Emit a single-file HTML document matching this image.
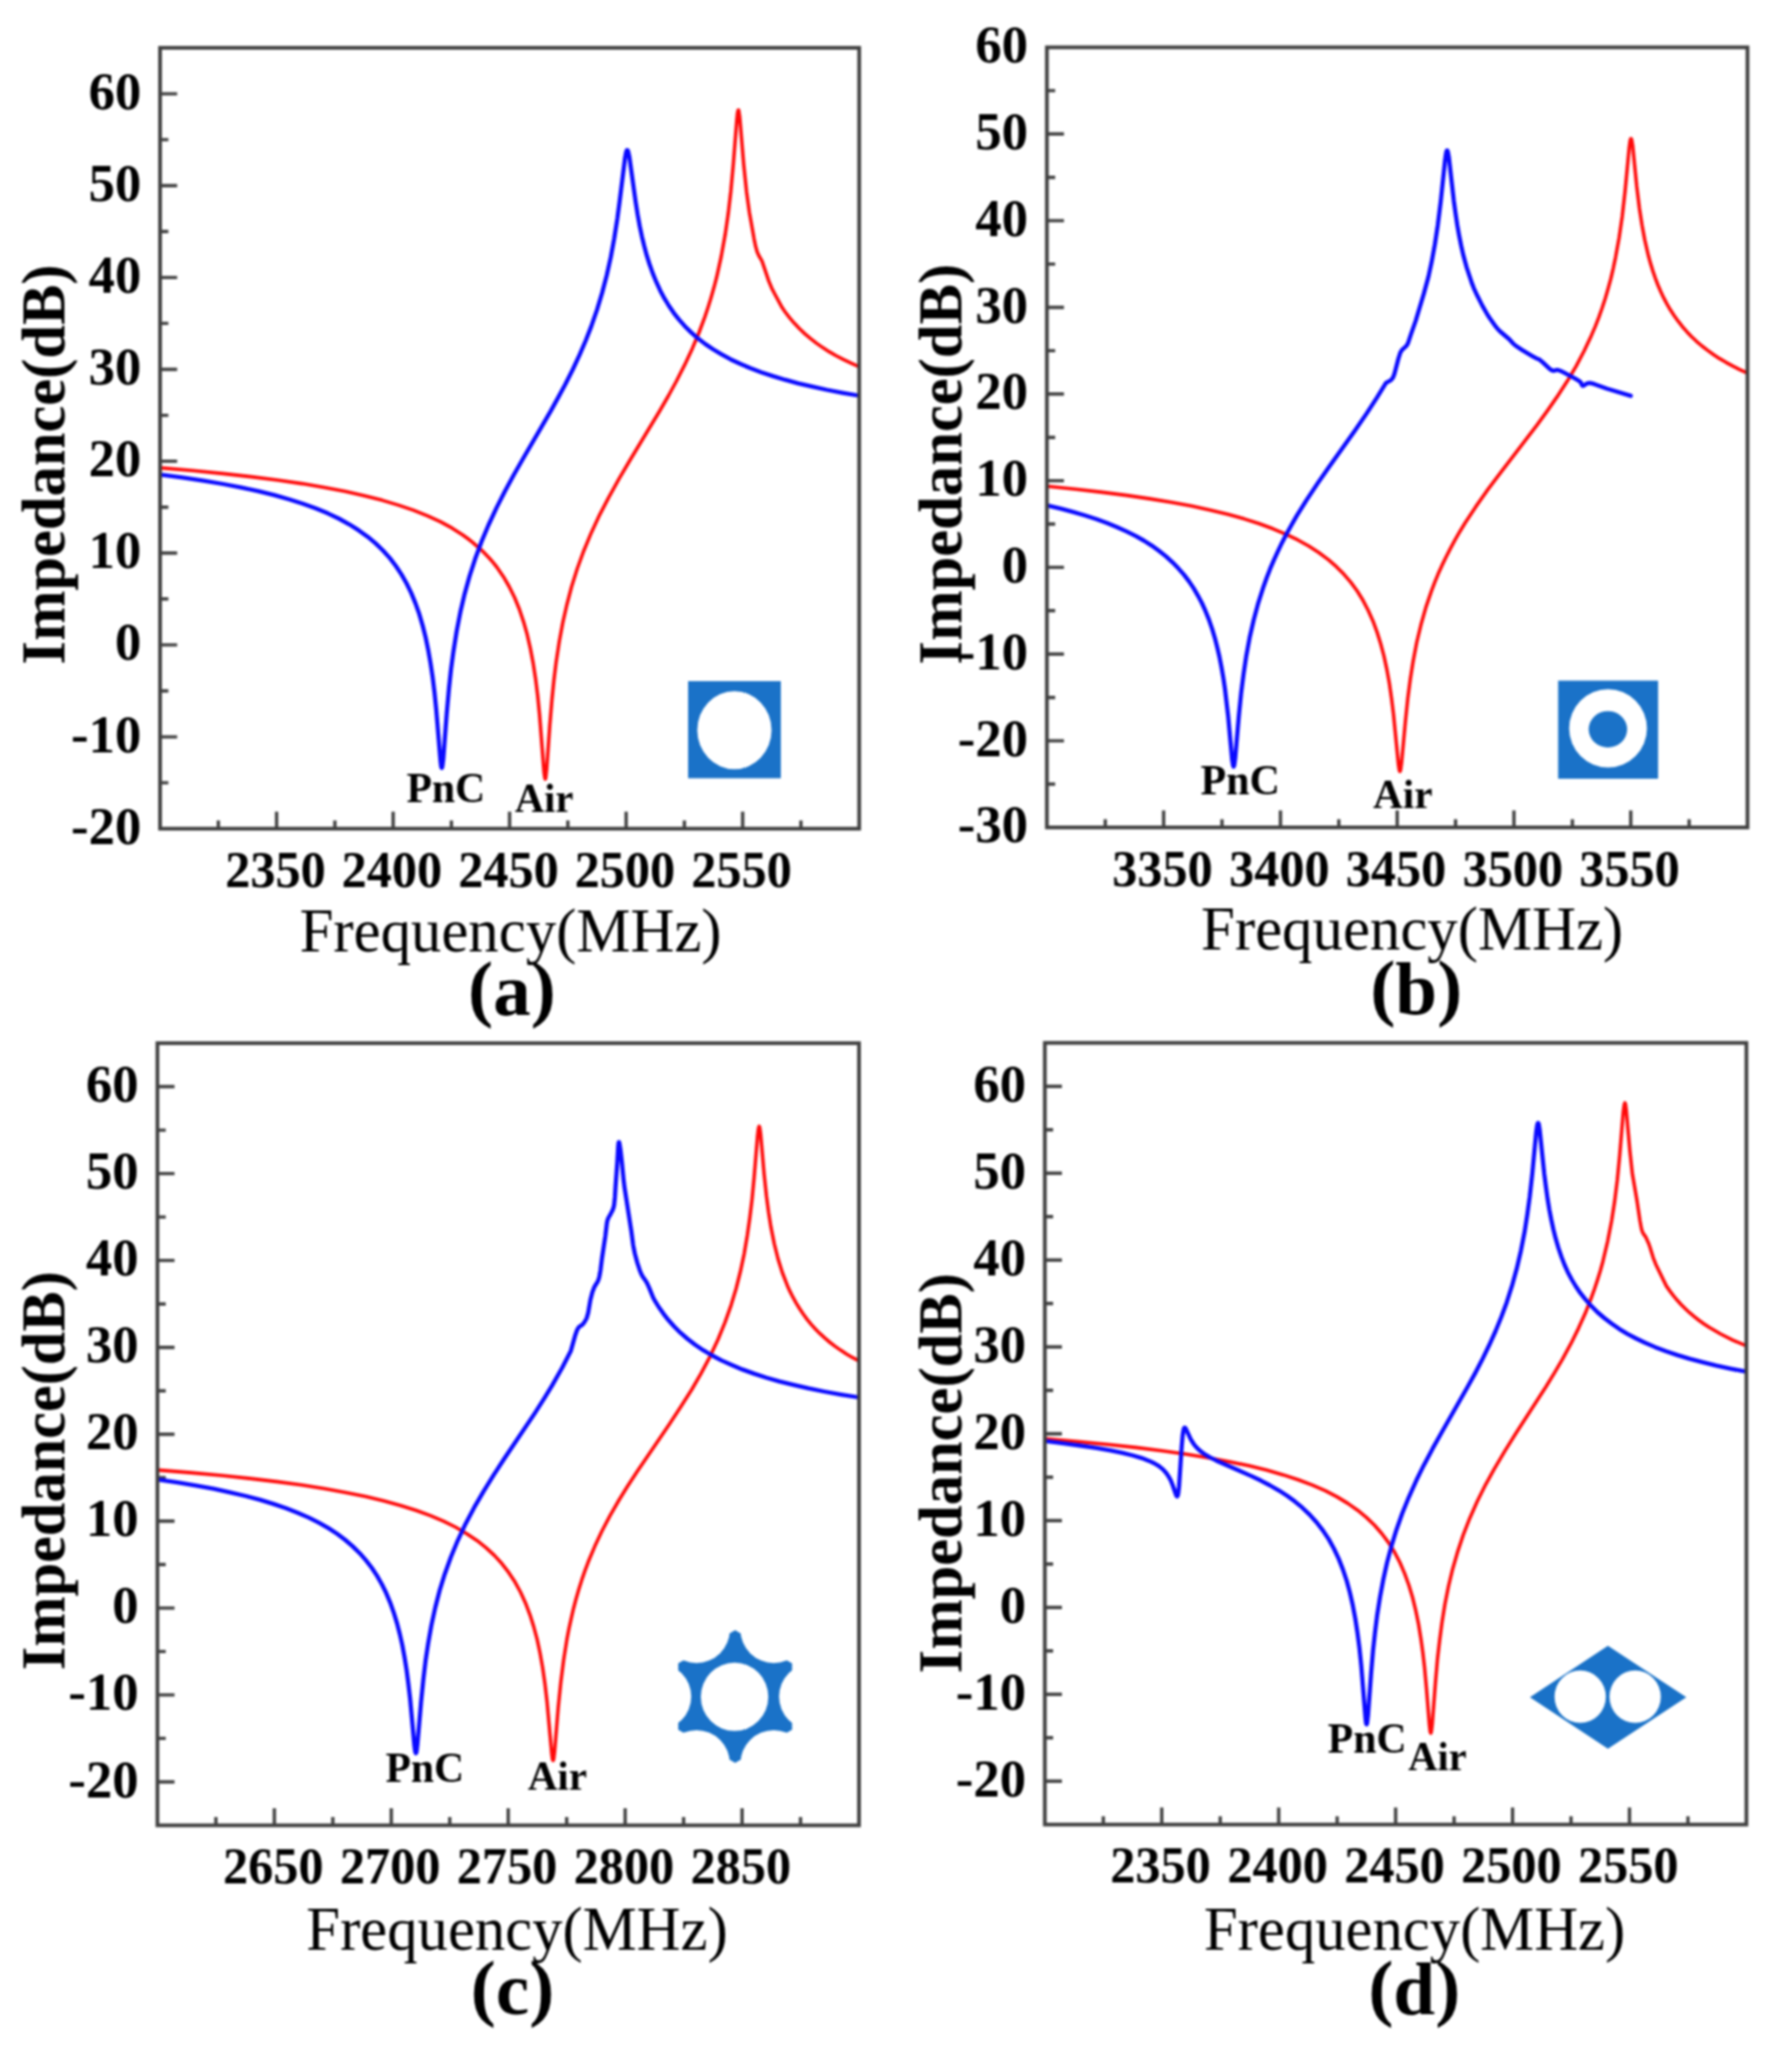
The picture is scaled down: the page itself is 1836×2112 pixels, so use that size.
<!DOCTYPE html><html><head><meta charset="utf-8"><title>Impedance plots</title><style>html,body{margin:0;padding:0;background:#fff;}svg{display:block;}#wrap{filter:blur(1px);}text{font-family:"Liberation Serif","Times New Roman",serif;fill:#000;}</style></head><body><div id="wrap">
<svg xmlns="http://www.w3.org/2000/svg" width="1836" height="2112" viewBox="0 0 1836 2112">
<rect width="1836" height="2112" fill="#fff"/>
<g><clipPath id="clipa"><rect x="164.0" y="49.0" width="716.3" height="800.2"/></clipPath><path d="M164.0 802.1h8.5 M164.0 755.1h17.5 M164.0 708.0h8.5 M164.0 660.9h17.5 M164.0 613.8h8.5 M164.0 566.8h17.5 M164.0 519.7h8.5 M164.0 472.6h17.5 M164.0 425.6h8.5 M164.0 378.5h17.5 M164.0 331.4h8.5 M164.0 284.4h17.5 M164.0 237.3h8.5 M164.0 190.2h17.5 M164.0 143.1h8.5 M164.0 96.1h17.5 M223.7 849.2v-8.5 M283.4 849.2v-17.5 M343.1 849.2v-8.5 M402.8 849.2v-17.5 M462.5 849.2v-8.5 M522.1 849.2v-17.5 M581.8 849.2v-8.5 M641.5 849.2v-17.5 M701.2 849.2v-8.5 M760.9 849.2v-17.5 M820.6 849.2v-8.5" stroke="#404040" stroke-width="3.4" fill="none"/><text x="144.7" y="864.7" font-size="54.0" font-weight="bold" text-anchor="end">-20</text><text x="144.7" y="770.6" font-size="54.0" font-weight="bold" text-anchor="end">-10</text><text x="144.7" y="676.4" font-size="54.0" font-weight="bold" text-anchor="end">0</text><text x="144.7" y="582.3" font-size="54.0" font-weight="bold" text-anchor="end">10</text><text x="144.7" y="488.1" font-size="54.0" font-weight="bold" text-anchor="end">20</text><text x="144.7" y="394.0" font-size="54.0" font-weight="bold" text-anchor="end">30</text><text x="144.7" y="299.9" font-size="54.0" font-weight="bold" text-anchor="end">40</text><text x="144.7" y="205.7" font-size="54.0" font-weight="bold" text-anchor="end">50</text><text x="144.7" y="111.6" font-size="54.0" font-weight="bold" text-anchor="end">60</text><text x="282.2" y="908.9" font-size="53.5" font-weight="bold" text-anchor="middle" textLength="103.0" lengthAdjust="spacingAndGlyphs">2350</text><text x="401.6" y="908.9" font-size="53.5" font-weight="bold" text-anchor="middle" textLength="103.0" lengthAdjust="spacingAndGlyphs">2400</text><text x="520.9" y="908.9" font-size="53.5" font-weight="bold" text-anchor="middle" textLength="103.0" lengthAdjust="spacingAndGlyphs">2450</text><text x="640.3" y="908.9" font-size="53.5" font-weight="bold" text-anchor="middle" textLength="103.0" lengthAdjust="spacingAndGlyphs">2500</text><text x="759.7" y="908.9" font-size="53.5" font-weight="bold" text-anchor="middle" textLength="103.0" lengthAdjust="spacingAndGlyphs">2550</text><text x="306.9" y="975.3" font-size="63.6" font-weight="normal" text-anchor="start" textLength="432.4" lengthAdjust="spacingAndGlyphs">Frequency(MHz)</text><text x="479.6" y="1040.3" font-size="77" font-weight="bold"><tspan dy="-2">(</tspan><tspan dy="2">a</tspan><tspan dy="-2">)</tspan></text><text transform="translate(66.0 680.9) rotate(-90)" x="0" y="0" font-size="63.5" font-weight="bold" textLength="409.9" lengthAdjust="spacingAndGlyphs">Impedance(dB)</text><text x="416.4" y="821.5" font-size="44.3" font-weight="bold" text-anchor="start" textLength="80.7" lengthAdjust="spacingAndGlyphs">PnC</text><text x="527.4" y="831.5" font-size="42.5" font-weight="bold" text-anchor="start" textLength="60.0" lengthAdjust="spacingAndGlyphs">Air</text><g clip-path="url(#clipa)"><path d="M164.0 479.4 L197.6 482.3 L228.8 485.4 L257.7 488.6 L284.5 492.0 L309.4 495.6 L332.3 499.5 L353.6 503.6 L373.3 507.9 L391.5 512.6 L408.2 517.6 L423.7 522.9 L438.0 528.6 L451.2 534.7 L463.2 541.2 L474.2 548.2 L479.4 552.0 L484.3 555.8 L493.2 563.6 L501.4 572.0 L505.2 576.4 L508.9 581.0 L515.6 590.7 L521.6 601.0 L527.2 612.2 L532.1 624.2 L536.4 637.1 L540.1 650.1 L543.3 664.2 L546.2 679.3 L548.8 696.1 L550.9 713.1 L552.8 732.5 L557.4 791.7 L558.1 796.6 L558.4 797.9 L558.7 798.3 L559.0 797.7 L559.3 795.8 L560.1 788.4 L563.3 743.2 L565.5 717.0 L567.5 697.2 L569.8 678.4 L573.0 657.5 L576.6 638.1 L580.9 619.2 L585.6 601.3 L591.5 582.5 L598.2 564.2 L605.8 545.9 L614.5 527.3 L623.6 509.8 L634.1 490.9 L645.2 472.0 L675.8 421.2 L684.9 405.5 L692.8 391.0 L701.5 373.9 L709.2 357.4 L716.1 341.0 L722.2 324.6 L725.5 314.7 L728.6 304.7 L731.5 294.6 L734.2 284.3 L738.9 263.0 L743.0 240.4 L746.1 219.1 L748.8 195.7 L751.3 168.7 L754.9 122.8 L755.6 115.8 L756.3 112.8 L756.4 112.7 L756.7 112.8 L757.0 114.0 L757.9 120.1 L762.0 168.9 L764.9 196.7 L767.8 217.8 L772.6 244.8 L774.2 252.6 L775.8 258.2 L777.5 262.0 L780.2 266.6 L781.1 268.6 L787.6 287.9 L790.7 295.3 L793.9 301.5 L801.4 315.3 L804.3 319.5 L809.0 325.6 L813.9 331.3 L819.1 336.8 L824.7 342.1 L830.4 346.9 L836.4 351.6 L842.8 356.1 L849.5 360.4 L856.6 364.5 L864.1 368.4 L872.0 372.2 L880.3 375.8" stroke="#ff0a0a" stroke-width="3.6" fill="none" stroke-linejoin="round" stroke-linecap="round"/><path d="M164.0 486.3 L187.0 489.4 L208.6 492.6 L228.6 496.0 L247.4 499.6 L264.9 503.4 L281.2 507.4 L296.4 511.7 L310.5 516.2 L323.7 521.0 L335.9 526.1 L347.3 531.5 L357.8 537.3 L367.5 543.4 L376.6 549.9 L384.9 556.9 L392.5 564.3 L399.4 571.9 L405.6 580.0 L411.3 588.6 L416.5 597.8 L421.3 607.6 L425.6 618.1 L429.6 629.3 L433.1 641.4 L436.1 653.2 L438.7 665.9 L441.1 679.5 L443.3 694.2 L445.2 709.7 L446.9 726.6 L451.3 779.5 L452.0 785.2 L452.3 786.5 L452.6 787.0 L453.0 786.4 L453.3 784.8 L454.2 777.5 L457.7 731.1 L460.0 705.5 L462.1 685.7 L464.6 667.3 L467.9 646.6 L471.7 627.1 L476.1 608.3 L481.1 590.4 L486.8 572.8 L493.2 555.4 L500.5 538.0 L508.7 520.4 L517.0 504.0 L526.6 486.2 L536.6 468.7 L564.0 421.6 L572.0 407.1 L579.1 394.0 L586.9 378.5 L593.8 363.6 L600.1 349.0 L605.8 334.4 L611.7 317.4 L616.9 300.1 L621.6 282.2 L625.8 263.4 L629.3 244.3 L632.5 224.0 L634.9 205.9 L640.3 162.5 L641.4 156.5 L641.9 154.7 L642.4 153.9 L642.7 153.8 L643.0 154.0 L643.6 155.2 L644.9 161.3 L651.2 206.5 L653.3 219.9 L655.5 232.0 L657.7 242.4 L660.1 252.3 L662.6 261.7 L665.4 270.5 L668.8 280.1 L672.5 289.2 L676.4 297.7 L680.8 305.9 L685.4 313.5 L690.4 320.8 L695.8 327.6 L701.6 334.2 L708.1 340.6 L715.1 346.8 L722.7 352.6 L730.7 358.0 L739.3 363.2 L748.5 368.2 L758.3 372.8 L768.8 377.3 L779.9 381.5 L791.8 385.4 L804.4 389.2 L817.8 392.8 L832.1 396.2 L847.2 399.5 L863.3 402.6 L880.3 405.5" stroke="#0a0aff" stroke-width="4.3" fill="none" stroke-linejoin="round" stroke-linecap="round"/></g><rect x="164.0" y="49.0" width="716.3" height="800.2" fill="none" stroke="#404040" stroke-width="3.8"/></g>
<g><clipPath id="clipb"><rect x="1072.6" y="48.5" width="717.8" height="799.4"/></clipPath><path d="M1072.6 803.5h8.5 M1072.6 759.1h17.5 M1072.6 714.7h8.5 M1072.6 670.3h17.5 M1072.6 625.8h8.5 M1072.6 581.4h17.5 M1072.6 537.0h8.5 M1072.6 492.6h17.5 M1072.6 448.2h8.5 M1072.6 403.8h17.5 M1072.6 359.4h8.5 M1072.6 315.0h17.5 M1072.6 270.6h8.5 M1072.6 226.1h17.5 M1072.6 181.7h8.5 M1072.6 137.3h17.5 M1072.6 92.9h8.5 M1132.4 847.9v-8.5 M1192.2 847.9v-17.5 M1252.0 847.9v-8.5 M1311.9 847.9v-17.5 M1371.7 847.9v-8.5 M1431.5 847.9v-17.5 M1491.3 847.9v-8.5 M1551.1 847.9v-17.5 M1611.0 847.9v-8.5 M1670.8 847.9v-17.5 M1730.6 847.9v-8.5" stroke="#404040" stroke-width="3.4" fill="none"/><text x="1053.3" y="863.4" font-size="54.0" font-weight="bold" text-anchor="end">-30</text><text x="1053.3" y="774.6" font-size="54.0" font-weight="bold" text-anchor="end">-20</text><text x="1053.3" y="685.8" font-size="54.0" font-weight="bold" text-anchor="end">-10</text><text x="1053.3" y="596.9" font-size="54.0" font-weight="bold" text-anchor="end">0</text><text x="1053.3" y="508.1" font-size="54.0" font-weight="bold" text-anchor="end">10</text><text x="1053.3" y="419.3" font-size="54.0" font-weight="bold" text-anchor="end">20</text><text x="1053.3" y="330.5" font-size="54.0" font-weight="bold" text-anchor="end">30</text><text x="1053.3" y="241.6" font-size="54.0" font-weight="bold" text-anchor="end">40</text><text x="1053.3" y="152.8" font-size="54.0" font-weight="bold" text-anchor="end">50</text><text x="1053.3" y="64.0" font-size="54.0" font-weight="bold" text-anchor="end">60</text><text x="1191.0" y="907.6" font-size="53.5" font-weight="bold" text-anchor="middle" textLength="103.0" lengthAdjust="spacingAndGlyphs">3350</text><text x="1310.7" y="907.6" font-size="53.5" font-weight="bold" text-anchor="middle" textLength="103.0" lengthAdjust="spacingAndGlyphs">3400</text><text x="1430.3" y="907.6" font-size="53.5" font-weight="bold" text-anchor="middle" textLength="103.0" lengthAdjust="spacingAndGlyphs">3450</text><text x="1549.9" y="907.6" font-size="53.5" font-weight="bold" text-anchor="middle" textLength="103.0" lengthAdjust="spacingAndGlyphs">3500</text><text x="1669.6" y="907.6" font-size="53.5" font-weight="bold" text-anchor="middle" textLength="103.0" lengthAdjust="spacingAndGlyphs">3550</text><text x="1230.5" y="972.9" font-size="63.6" font-weight="normal" text-anchor="start" textLength="432.6" lengthAdjust="spacingAndGlyphs">Frequency(MHz)</text><text x="1403.9" y="1039.0" font-size="77" font-weight="bold"><tspan dy="-2">(</tspan><tspan dy="2">b</tspan><tspan dy="-2">)</tspan></text><text transform="translate(985.0 680.9) rotate(-90)" x="0" y="0" font-size="63.5" font-weight="bold" textLength="410.5" lengthAdjust="spacingAndGlyphs">Impedance(dB)</text><text x="1230.0" y="814.4" font-size="44.3" font-weight="bold" text-anchor="start" textLength="81.2" lengthAdjust="spacingAndGlyphs">PnC</text><text x="1406.8" y="827.5" font-size="42.5" font-weight="bold" text-anchor="start" textLength="60.9" lengthAdjust="spacingAndGlyphs">Air</text><g clip-path="url(#clipb)"><path d="M1072.6 498.3 L1101.8 501.3 L1129.0 504.4 L1154.4 507.6 L1178.2 511.1 L1200.3 514.7 L1220.9 518.6 L1240.0 522.7 L1257.9 527.0 L1274.4 531.6 L1289.8 536.5 L1304.1 541.8 L1317.3 547.3 L1329.5 553.2 L1340.8 559.5 L1351.2 566.2 L1360.8 573.4 L1369.2 580.7 L1377.0 588.6 L1384.1 596.9 L1390.6 605.8 L1396.5 615.3 L1401.8 625.5 L1406.7 636.4 L1411.0 648.1 L1414.6 659.8 L1417.9 672.1 L1420.8 685.5 L1423.4 699.8 L1425.6 715.0 L1427.7 731.9 L1432.8 783.7 L1433.6 789.0 L1434.0 790.2 L1434.4 790.5 L1434.7 789.9 L1435.1 788.3 L1436.0 781.6 L1440.0 738.3 L1442.5 714.4 L1445.0 695.5 L1447.8 677.9 L1451.5 658.4 L1455.9 640.1 L1460.8 622.7 L1466.5 605.8 L1469.9 596.9 L1473.5 588.1 L1477.4 579.4 L1481.6 570.7 L1486.0 562.1 L1490.7 553.4 L1495.7 544.7 L1501.0 536.0 L1511.9 519.4 L1524.4 501.6 L1537.8 483.8 L1574.7 435.6 L1585.6 420.6 L1595.1 406.9 L1605.6 390.8 L1614.9 375.1 L1623.1 359.5 L1630.4 343.9 L1634.4 334.6 L1638.1 325.1 L1641.5 315.5 L1644.7 305.7 L1647.6 295.7 L1650.4 285.5 L1652.9 274.8 L1655.2 263.8 L1658.9 243.5 L1662.1 221.5 L1665.0 195.7 L1669.2 151.4 L1670.1 144.7 L1670.5 143.0 L1670.9 142.1 L1671.1 142.0 L1671.3 142.2 L1671.8 143.5 L1672.8 149.6 L1676.9 190.9 L1679.7 213.7 L1682.3 230.5 L1685.1 245.7 L1689.0 262.6 L1691.2 270.4 L1693.5 277.9 L1696.0 285.1 L1698.6 292.0 L1701.4 298.5 L1704.4 304.9 L1707.8 311.4 L1711.4 317.6 L1715.3 323.5 L1719.4 329.2 L1723.7 334.7 L1728.3 339.9 L1733.1 345.0 L1738.2 349.8 L1743.7 354.5 L1749.4 358.9 L1755.4 363.2 L1761.7 367.4 L1768.4 371.3 L1775.4 375.1 L1782.7 378.8 L1790.4 382.3" stroke="#ff0a0a" stroke-width="3.6" fill="none" stroke-linejoin="round" stroke-linecap="round"/><path d="M1072.6 517.9 L1086.4 521.2 L1099.4 524.7 L1111.8 528.3 L1123.4 532.0 L1134.3 536.0 L1144.6 540.2 L1154.3 544.6 L1163.4 549.2 L1172.0 554.0 L1180.0 559.1 L1187.5 564.5 L1194.6 570.1 L1201.1 576.1 L1207.2 582.3 L1213.0 588.9 L1218.3 595.9 L1223.0 602.9 L1227.3 610.3 L1231.4 618.0 L1235.1 626.2 L1238.6 634.9 L1241.8 644.1 L1244.7 653.8 L1247.3 664.0 L1249.5 673.6 L1251.5 683.8 L1253.4 694.8 L1255.1 706.4 L1258.2 732.9 L1262.3 777.9 L1263.2 783.8 L1263.6 785.2 L1263.9 785.6 L1264.3 785.0 L1264.7 783.3 L1265.6 776.4 L1269.3 733.2 L1271.7 709.4 L1274.1 690.7 L1276.7 673.2 L1280.3 653.6 L1284.5 635.3 L1289.2 617.8 L1294.6 600.9 L1297.9 591.8 L1301.4 582.7 L1305.2 573.8 L1309.3 564.9 L1313.6 555.9 L1318.2 547.0 L1323.2 538.0 L1328.4 528.9 L1338.5 512.6 L1350.1 495.1 L1361.5 478.7 L1388.0 441.4 L1400.4 423.4 L1410.8 407.4 L1420.0 392.3 L1425.0 389.7 L1426.7 387.7 L1427.8 385.5 L1428.9 382.3 L1432.7 367.6 L1434.7 361.3 L1436.4 358.6 L1440.9 354.5 L1442.5 351.9 L1445.4 343.1 L1450.5 328.6 L1458.8 300.9 L1463.5 283.6 L1466.7 268.8 L1470.1 250.4 L1473.1 230.6 L1476.1 206.5 L1480.6 163.7 L1481.6 156.9 L1482.0 155.1 L1482.5 154.2 L1482.7 154.1 L1482.9 154.3 L1483.4 155.5 L1484.5 161.4 L1489.5 205.6 L1491.3 218.8 L1493.1 230.9 L1495.0 241.5 L1497.0 251.5 L1499.1 260.9 L1501.5 269.8 L1502.7 274.1 L1507.9 289.9 L1510.0 295.3 L1513.7 303.3 L1518.8 313.4 L1523.3 321.3 L1526.3 326.0 L1532.7 334.9 L1534.4 337.0 L1536.8 339.5 L1546.2 347.5 L1550.3 352.0 L1552.5 354.0 L1559.4 358.6 L1569.8 364.8 L1574.0 367.2 L1576.3 368.0 L1577.5 368.7 L1579.9 370.6 L1587.1 377.4 L1589.8 379.4 L1591.8 380.0 L1595.0 379.2 L1596.3 379.2 L1598.7 380.0 L1601.6 381.4 L1614.2 388.2 L1618.2 390.6 L1619.7 391.9 L1620.7 394.5 L1621.3 395.3 L1622.1 395.4 L1622.5 395.2 L1625.0 393.5 L1626.3 392.8 L1627.9 392.5 L1630.0 392.7 L1633.7 393.7 L1646.3 398.3 L1670.8 405.6" stroke="#0a0aff" stroke-width="4.3" fill="none" stroke-linejoin="round" stroke-linecap="round"/></g><rect x="1072.6" y="48.5" width="717.8" height="799.4" fill="none" stroke="#404040" stroke-width="3.8"/></g>
<g><clipPath id="clipc"><rect x="161.3" y="1069.0" width="718.8" height="801.5"/></clipPath><path d="M161.3 1826.0h17.5 M161.3 1781.4h8.5 M161.3 1736.9h17.5 M161.3 1692.4h8.5 M161.3 1647.9h17.5 M161.3 1603.3h8.5 M161.3 1558.8h17.5 M161.3 1514.3h8.5 M161.3 1469.8h17.5 M161.3 1425.2h8.5 M161.3 1380.7h17.5 M161.3 1336.2h8.5 M161.3 1291.6h17.5 M161.3 1247.1h8.5 M161.3 1202.6h17.5 M161.3 1158.1h8.5 M161.3 1113.5h17.5 M221.2 1870.5v-8.5 M281.1 1870.5v-17.5 M341.0 1870.5v-8.5 M400.9 1870.5v-17.5 M460.8 1870.5v-8.5 M520.7 1870.5v-17.5 M580.6 1870.5v-8.5 M640.5 1870.5v-17.5 M700.4 1870.5v-8.5 M760.3 1870.5v-17.5 M820.2 1870.5v-8.5" stroke="#404040" stroke-width="3.4" fill="none"/><text x="142.0" y="1841.5" font-size="54.0" font-weight="bold" text-anchor="end">-20</text><text x="142.0" y="1752.4" font-size="54.0" font-weight="bold" text-anchor="end">-10</text><text x="142.0" y="1663.4" font-size="54.0" font-weight="bold" text-anchor="end">0</text><text x="142.0" y="1574.3" font-size="54.0" font-weight="bold" text-anchor="end">10</text><text x="142.0" y="1485.2" font-size="54.0" font-weight="bold" text-anchor="end">20</text><text x="142.0" y="1396.2" font-size="54.0" font-weight="bold" text-anchor="end">30</text><text x="142.0" y="1307.1" font-size="54.0" font-weight="bold" text-anchor="end">40</text><text x="142.0" y="1218.1" font-size="54.0" font-weight="bold" text-anchor="end">50</text><text x="142.0" y="1129.0" font-size="54.0" font-weight="bold" text-anchor="end">60</text><text x="279.9" y="1930.2" font-size="53.5" font-weight="bold" text-anchor="middle" textLength="103.0" lengthAdjust="spacingAndGlyphs">2650</text><text x="399.7" y="1930.2" font-size="53.5" font-weight="bold" text-anchor="middle" textLength="103.0" lengthAdjust="spacingAndGlyphs">2700</text><text x="519.5" y="1930.2" font-size="53.5" font-weight="bold" text-anchor="middle" textLength="103.0" lengthAdjust="spacingAndGlyphs">2750</text><text x="639.3" y="1930.2" font-size="53.5" font-weight="bold" text-anchor="middle" textLength="103.0" lengthAdjust="spacingAndGlyphs">2800</text><text x="759.1" y="1930.2" font-size="53.5" font-weight="bold" text-anchor="middle" textLength="103.0" lengthAdjust="spacingAndGlyphs">2850</text><text x="313.8" y="1998.3" font-size="63.6" font-weight="normal" text-anchor="start" textLength="431.8" lengthAdjust="spacingAndGlyphs">Frequency(MHz)</text><text x="482.3" y="2064.2" font-size="77" font-weight="bold"><tspan dy="-2">(</tspan><tspan dy="2">c</tspan><tspan dy="-2">)</tspan></text><text transform="translate(66.0 1711.6) rotate(-90)" x="0" y="0" font-size="63.5" font-weight="bold" textLength="408.9" lengthAdjust="spacingAndGlyphs">Impedance(dB)</text><text x="395.1" y="1825.7" font-size="44.3" font-weight="bold" text-anchor="start" textLength="80.3" lengthAdjust="spacingAndGlyphs">PnC</text><text x="540.7" y="1834.4" font-size="42.5" font-weight="bold" text-anchor="start" textLength="60.8" lengthAdjust="spacingAndGlyphs">Air</text><g clip-path="url(#clipc)"><path d="M161.3 1506.4 L195.4 1509.1 L227.1 1512.0 L256.5 1515.1 L283.8 1518.4 L309.1 1521.8 L332.6 1525.5 L354.3 1529.4 L374.5 1533.5 L393.2 1538.0 L410.4 1542.7 L426.3 1547.7 L441.0 1553.1 L454.5 1558.9 L466.9 1565.0 L478.3 1571.7 L488.8 1578.7 L498.1 1586.1 L506.5 1593.9 L514.2 1602.3 L521.2 1611.4 L527.6 1621.1 L533.3 1631.5 L538.4 1642.7 L543.0 1654.8 L546.8 1666.9 L550.3 1679.9 L553.3 1694.0 L556.0 1709.3 L558.3 1725.3 L560.4 1743.2 L565.3 1797.3 L566.0 1802.4 L566.3 1803.6 L566.7 1804.0 L567.0 1803.5 L567.4 1802.0 L568.2 1795.4 L572.0 1749.2 L574.7 1722.9 L577.5 1701.0 L580.7 1680.7 L582.8 1669.7 L585.1 1659.1 L587.5 1648.7 L590.1 1638.7 L593.0 1628.8 L596.0 1619.2 L599.3 1609.7 L602.8 1600.3 L609.4 1584.6 L616.7 1569.0 L624.9 1553.3 L634.3 1537.0 L642.8 1523.3 L652.6 1508.2 L685.6 1459.7 L697.4 1441.8 L708.7 1424.0 L718.3 1407.3 L727.6 1389.8 L735.7 1372.5 L742.8 1355.1 L749.1 1337.3 L754.1 1320.7 L758.5 1303.3 L762.4 1285.1 L765.7 1265.6 L768.2 1248.0 L770.5 1229.1 L772.7 1206.0 L776.2 1163.6 L777.0 1156.9 L777.7 1154.3 L777.8 1154.2 L778.0 1154.4 L778.4 1155.6 L779.3 1161.8 L782.9 1203.2 L785.3 1225.8 L787.5 1242.5 L789.9 1257.7 L793.3 1274.6 L797.1 1289.9 L801.5 1304.0 L806.5 1316.9 L809.4 1323.4 L812.6 1329.7 L815.9 1335.6 L819.4 1341.3 L823.1 1346.8 L827.0 1352.1 L831.1 1357.1 L835.5 1362.0 L840.2 1366.7 L845.1 1371.2 L850.2 1375.5 L855.6 1379.6 L861.3 1383.6 L867.2 1387.5 L873.5 1391.2 L880.1 1394.7" stroke="#ff0a0a" stroke-width="3.6" fill="none" stroke-linejoin="round" stroke-linecap="round"/><path d="M161.3 1516.2 L181.8 1519.2 L201.0 1522.4 L219.0 1525.7 L235.8 1529.3 L251.6 1533.0 L266.3 1536.9 L280.1 1541.1 L293.0 1545.5 L305.0 1550.2 L316.3 1555.1 L326.7 1560.4 L336.4 1565.9 L345.4 1571.8 L353.7 1578.0 L361.4 1584.6 L368.6 1591.7 L374.9 1598.9 L380.8 1606.5 L386.2 1614.6 L391.1 1623.2 L395.6 1632.3 L399.7 1642.1 L403.4 1652.4 L406.8 1663.5 L409.6 1674.4 L412.2 1685.9 L414.5 1698.4 L416.6 1711.5 L418.4 1725.4 L420.2 1741.0 L424.6 1789.3 L425.4 1794.9 L425.8 1796.2 L426.1 1796.6 L426.5 1796.0 L426.9 1794.2 L427.7 1787.4 L431.4 1744.3 L433.8 1720.5 L436.0 1701.9 L438.6 1684.6 L442.0 1665.4 L446.0 1647.1 L450.5 1629.6 L455.7 1612.9 L461.9 1595.7 L468.9 1578.8 L476.8 1561.9 L485.9 1544.7 L495.1 1528.8 L505.7 1511.6 L517.0 1494.3 L548.3 1447.6 L557.5 1433.2 L565.6 1419.9 L575.9 1401.8 L584.9 1384.2 L589.2 1368.8 L591.3 1362.8 L592.9 1360.2 L594.1 1359.2 L596.8 1357.4 L597.7 1356.4 L599.7 1353.4 L601.1 1350.6 L602.6 1345.4 L604.9 1332.0 L606.9 1324.2 L608.8 1319.2 L612.6 1312.8 L613.4 1310.7 L614.1 1308.0 L615.3 1301.3 L616.7 1289.9 L620.2 1266.7 L621.7 1253.9 L622.3 1250.7 L623.3 1248.0 L625.2 1244.9 L627.8 1239.7 L628.7 1237.0 L629.2 1234.7 L630.0 1226.7 L630.7 1215.2 L632.5 1190.1 L633.4 1174.7 L633.7 1171.7 L634.0 1170.3 L634.2 1170.3 L634.4 1170.7 L634.8 1172.6 L635.8 1179.1 L637.1 1190.6 L638.9 1209.1 L639.9 1217.2 L646.8 1261.4 L648.7 1275.8 L650.4 1284.5 L653.0 1294.1 L655.3 1301.2 L656.9 1305.3 L658.5 1308.3 L661.2 1312.0 L662.8 1314.7 L665.0 1319.4 L669.3 1330.0 L670.6 1332.3 L675.0 1339.5 L679.8 1346.3 L684.9 1352.8 L690.4 1359.0 L697.1 1365.7 L704.4 1372.0 L712.2 1378.0 L720.6 1383.7 L729.6 1389.0 L739.3 1394.1 L749.7 1398.8 L760.7 1403.4 L772.5 1407.6 L785.1 1411.7 L798.6 1415.6 L813.0 1419.2 L828.2 1422.7 L844.5 1426.0 L861.7 1429.1 L880.1 1432.0" stroke="#0a0aff" stroke-width="4.3" fill="none" stroke-linejoin="round" stroke-linecap="round"/></g><rect x="161.3" y="1069.0" width="718.8" height="801.5" fill="none" stroke="#404040" stroke-width="3.8"/></g>
<g><clipPath id="clipd"><rect x="1070.5" y="1068.7" width="718.8" height="801.0"/></clipPath><path d="M1070.5 1825.2h17.5 M1070.5 1780.7h8.5 M1070.5 1736.2h17.5 M1070.5 1691.7h8.5 M1070.5 1647.2h17.5 M1070.5 1602.7h8.5 M1070.5 1558.2h17.5 M1070.5 1513.7h8.5 M1070.5 1469.2h17.5 M1070.5 1424.7h8.5 M1070.5 1380.2h17.5 M1070.5 1335.7h8.5 M1070.5 1291.2h17.5 M1070.5 1246.7h8.5 M1070.5 1202.2h17.5 M1070.5 1157.7h8.5 M1070.5 1113.2h17.5 M1130.4 1869.7v-8.5 M1190.3 1869.7v-17.5 M1250.2 1869.7v-8.5 M1310.1 1869.7v-17.5 M1370.0 1869.7v-8.5 M1429.9 1869.7v-17.5 M1489.8 1869.7v-8.5 M1549.7 1869.7v-17.5 M1609.6 1869.7v-8.5 M1669.5 1869.7v-17.5 M1729.4 1869.7v-8.5" stroke="#404040" stroke-width="3.4" fill="none"/><text x="1051.2" y="1840.7" font-size="54.0" font-weight="bold" text-anchor="end">-20</text><text x="1051.2" y="1751.7" font-size="54.0" font-weight="bold" text-anchor="end">-10</text><text x="1051.2" y="1662.7" font-size="54.0" font-weight="bold" text-anchor="end">0</text><text x="1051.2" y="1573.7" font-size="54.0" font-weight="bold" text-anchor="end">10</text><text x="1051.2" y="1484.7" font-size="54.0" font-weight="bold" text-anchor="end">20</text><text x="1051.2" y="1395.7" font-size="54.0" font-weight="bold" text-anchor="end">30</text><text x="1051.2" y="1306.7" font-size="54.0" font-weight="bold" text-anchor="end">40</text><text x="1051.2" y="1217.7" font-size="54.0" font-weight="bold" text-anchor="end">50</text><text x="1051.2" y="1128.7" font-size="54.0" font-weight="bold" text-anchor="end">60</text><text x="1189.1" y="1929.4" font-size="53.5" font-weight="bold" text-anchor="middle" textLength="103.0" lengthAdjust="spacingAndGlyphs">2350</text><text x="1308.9" y="1929.4" font-size="53.5" font-weight="bold" text-anchor="middle" textLength="103.0" lengthAdjust="spacingAndGlyphs">2400</text><text x="1428.7" y="1929.4" font-size="53.5" font-weight="bold" text-anchor="middle" textLength="103.0" lengthAdjust="spacingAndGlyphs">2450</text><text x="1548.5" y="1929.4" font-size="53.5" font-weight="bold" text-anchor="middle" textLength="103.0" lengthAdjust="spacingAndGlyphs">2500</text><text x="1668.3" y="1929.4" font-size="53.5" font-weight="bold" text-anchor="middle" textLength="103.0" lengthAdjust="spacingAndGlyphs">2550</text><text x="1233.5" y="1998.3" font-size="63.6" font-weight="normal" text-anchor="start" textLength="431.6" lengthAdjust="spacingAndGlyphs">Frequency(MHz)</text><text x="1401.9" y="2063.5" font-size="77" font-weight="bold"><tspan dy="-2">(</tspan><tspan dy="2">d</tspan><tspan dy="-2">)</tspan></text><text transform="translate(984.6 1714.7) rotate(-90)" x="0" y="0" font-size="63.5" font-weight="bold" textLength="410.0" lengthAdjust="spacingAndGlyphs">Impedance(dB)</text><text x="1360.3" y="1795.8" font-size="44.3" font-weight="bold" text-anchor="start" textLength="80.7" lengthAdjust="spacingAndGlyphs">PnC</text><text x="1442.8" y="1813.6" font-size="42.5" font-weight="bold" text-anchor="start" textLength="60.0" lengthAdjust="spacingAndGlyphs">Air</text><g clip-path="url(#clipd)"><path d="M1070.5 1474.4 L1104.1 1477.3 L1135.3 1480.3 L1164.2 1483.4 L1191.0 1486.8 L1215.8 1490.3 L1238.8 1494.0 L1260.1 1497.9 L1279.8 1502.1 L1298.0 1506.6 L1314.9 1511.4 L1330.4 1516.5 L1344.7 1521.9 L1357.9 1527.7 L1369.9 1533.9 L1381.0 1540.6 L1391.1 1547.7 L1400.1 1555.1 L1408.3 1563.0 L1415.7 1571.5 L1422.5 1580.6 L1428.7 1590.5 L1434.2 1601.0 L1439.1 1612.4 L1443.5 1624.5 L1447.2 1636.8 L1450.4 1649.9 L1453.4 1664.4 L1455.9 1680.0 L1457.8 1693.8 L1459.5 1708.4 L1461.4 1729.2 L1464.5 1767.6 L1465.2 1773.9 L1465.6 1775.6 L1465.9 1776.0 L1466.2 1775.6 L1466.6 1773.9 L1467.4 1767.4 L1470.7 1724.0 L1472.8 1699.7 L1475.0 1680.7 L1477.3 1663.3 L1480.4 1643.9 L1484.1 1625.4 L1488.3 1607.9 L1493.2 1590.9 L1499.1 1573.1 L1505.8 1555.9 L1513.4 1538.8 L1522.1 1521.3 L1531.2 1504.9 L1541.7 1487.1 L1552.8 1469.3 L1583.8 1421.3 L1592.9 1406.4 L1600.8 1392.8 L1609.6 1376.7 L1617.3 1361.1 L1624.2 1345.8 L1630.3 1330.2 L1633.6 1321.0 L1636.7 1311.6 L1639.6 1302.2 L1642.3 1292.4 L1647.1 1272.1 L1651.2 1251.0 L1654.3 1231.1 L1657.0 1209.4 L1659.5 1183.7 L1663.1 1139.8 L1664.0 1132.8 L1664.6 1130.3 L1664.8 1130.2 L1665.0 1130.4 L1665.4 1131.6 L1666.2 1137.5 L1669.9 1179.3 L1672.4 1202.6 L1677.1 1229.9 L1680.2 1250.7 L1681.7 1259.0 L1682.5 1261.7 L1683.3 1263.6 L1686.1 1267.6 L1688.9 1273.7 L1690.3 1277.5 L1693.8 1288.8 L1696.5 1295.7 L1707.3 1317.9 L1710.8 1322.9 L1714.4 1327.7 L1718.3 1332.3 L1722.3 1336.7 L1726.6 1341.0 L1731.1 1345.2 L1735.8 1349.1 L1740.7 1353.0 L1745.9 1356.7 L1751.3 1360.3 L1762.9 1367.0 L1775.5 1373.3 L1789.3 1379.2" stroke="#ff0a0a" stroke-width="3.6" fill="none" stroke-linejoin="round" stroke-linecap="round"/><path d="M1070.5 1476.7 L1089.9 1479.1 L1107.7 1481.5 L1123.7 1483.9 L1137.9 1486.4 L1150.1 1488.9 L1160.7 1491.5 L1169.6 1494.1 L1177.0 1496.9 L1182.6 1499.5 L1187.4 1502.4 L1191.4 1505.6 L1194.7 1509.2 L1197.2 1512.9 L1199.5 1517.0 L1201.6 1522.2 L1204.8 1531.6 L1205.5 1533.0 L1206.0 1533.4 L1206.6 1532.8 L1207.1 1530.9 L1208.0 1523.2 L1210.7 1482.7 L1211.7 1470.9 L1212.7 1464.7 L1213.3 1463.2 L1213.9 1462.9 L1214.5 1463.4 L1215.2 1464.6 L1220.1 1475.1 L1223.2 1480.0 L1225.3 1482.6 L1227.8 1485.2 L1230.5 1487.5 L1233.6 1489.8 L1239.1 1493.2 L1246.1 1496.7 L1282.2 1512.6 L1292.0 1517.3 L1300.9 1522.0 L1310.2 1527.3 L1318.7 1532.8 L1326.6 1538.6 L1334.0 1544.7 L1341.8 1552.1 L1348.9 1560.0 L1355.4 1568.4 L1361.4 1577.4 L1366.7 1587.0 L1371.6 1597.4 L1375.9 1608.4 L1379.9 1620.4 L1383.1 1632.3 L1386.0 1645.1 L1388.6 1658.9 L1390.9 1673.9 L1392.9 1689.6 L1394.7 1707.1 L1399.0 1760.4 L1399.6 1765.5 L1399.9 1766.6 L1400.2 1767.0 L1400.5 1766.5 L1400.8 1764.9 L1401.6 1758.1 L1404.8 1714.6 L1406.8 1691.0 L1408.8 1672.7 L1410.9 1655.7 L1413.9 1636.6 L1417.3 1618.5 L1421.1 1601.3 L1425.5 1584.7 L1430.7 1567.7 L1436.6 1551.0 L1443.4 1534.3 L1451.0 1517.3 L1458.8 1501.4 L1467.8 1484.4 L1477.4 1467.3 L1503.6 1421.3 L1511.4 1407.1 L1518.2 1394.1 L1525.6 1378.8 L1532.3 1364.0 L1538.2 1349.5 L1543.6 1334.9 L1549.1 1317.7 L1554.0 1299.9 L1558.3 1281.4 L1562.1 1262.0 L1564.8 1244.7 L1567.3 1226.2 L1569.9 1202.9 L1573.9 1160.4 L1574.9 1153.4 L1575.3 1151.6 L1575.7 1150.8 L1575.9 1150.7 L1576.1 1150.9 L1576.6 1152.1 L1577.5 1157.8 L1582.2 1202.9 L1583.9 1216.3 L1585.6 1228.7 L1587.4 1239.6 L1589.4 1250.0 L1591.5 1259.7 L1593.8 1268.9 L1596.7 1278.9 L1599.9 1288.3 L1602.9 1296.0 L1606.2 1303.4 L1610.2 1311.0 L1614.4 1318.0 L1618.9 1324.7 L1623.8 1330.9 L1630.1 1338.1 L1636.5 1344.5 L1643.5 1350.5 L1651.4 1356.5 L1659.0 1361.8 L1667.3 1366.8 L1676.1 1371.5 L1685.5 1376.0 L1695.7 1380.4 L1707.1 1384.7 L1718.6 1388.6 L1731.0 1392.4 L1744.3 1395.9 L1758.4 1399.4 L1773.3 1402.6 L1789.3 1405.7" stroke="#0a0aff" stroke-width="4.3" fill="none" stroke-linejoin="round" stroke-linecap="round"/></g><rect x="1070.5" y="1068.7" width="718.8" height="801.0" fill="none" stroke="#404040" stroke-width="3.8"/></g>
<path d="M705 698 H800 V797.6 H705 Z M714.4 748.2 A38.05 40.05 0 1 0 790.5 748.2 A38.05 40.05 0 1 0 714.4 748.2 Z" fill="#1a72c8" fill-rule="evenodd"/><path d="M1596.4 697.6 H1698.8 V798 H1596.4 Z M1607.7 746.4 A39.85 40.2 0 1 0 1687.4 746.4 A39.85 40.2 0 1 0 1607.7 746.4 Z" fill="#1a72c8" fill-rule="evenodd"/><ellipse cx="1647.4" cy="747.3" rx="19.7" ry="18.6" fill="#1a72c8"/><mask id="hexmask" maskUnits="userSpaceOnUse" x="600" y="1600" width="300" height="300"><polygon points="753.2,1670.6 811.5,1704.6 811.5,1772.6 753.2,1806.6 694.9,1772.6 694.9,1704.6" fill="#fff"/><circle cx="832.4" cy="1738.6" r="34.2" fill="#000"/><circle cx="792.8" cy="1670.0" r="34.2" fill="#000"/><circle cx="713.6" cy="1670.0" r="34.2" fill="#000"/><circle cx="674.0" cy="1738.6" r="34.2" fill="#000"/><circle cx="713.6" cy="1807.2" r="34.2" fill="#000"/><circle cx="792.8" cy="1807.2" r="34.2" fill="#000"/><ellipse cx="752.6" cy="1738.8" rx="34.6" ry="35" fill="#000"/></mask><rect x="680" y="1665" width="150" height="150" fill="#1a72c8" mask="url(#hexmask)"/><mask id="rhmask" maskUnits="userSpaceOnUse" x="1550" y="1670" width="200" height="140"><polygon points="1647.4,1686.6 1727.7,1739.3 1647.4,1792 1567.5,1739.3" fill="#fff"/><ellipse cx="1619" cy="1738.7" rx="26.3" ry="26.9" fill="#000"/><ellipse cx="1675.3" cy="1738.7" rx="26.3" ry="26.9" fill="#000"/></mask><rect x="1560" y="1680" width="175" height="120" fill="#1a72c8" mask="url(#rhmask)"/>
</svg></div></body></html>
